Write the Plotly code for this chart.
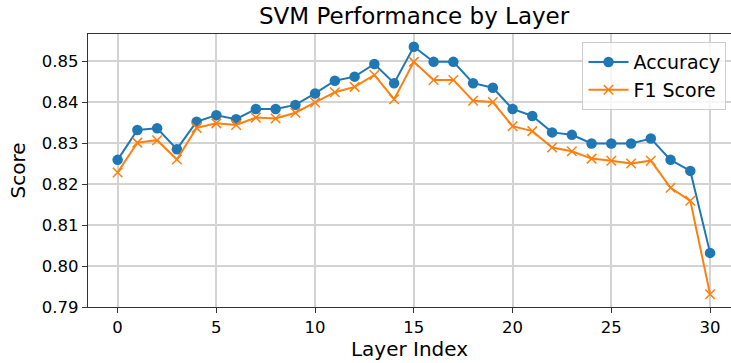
import plotly.graph_objects as go

layers = list(range(31))
accuracy = [0.8259, 0.8332, 0.8336, 0.8285, 0.8352, 0.8368, 0.8358, 0.8383, 0.8383, 0.8393,
            0.8421, 0.8452, 0.8462, 0.8493, 0.8446, 0.8535, 0.8498, 0.8498, 0.8446, 0.8435,
            0.8383, 0.8366, 0.8326, 0.8320, 0.8299, 0.8299, 0.8299, 0.8311, 0.8259, 0.8232,
            0.8032]
f1_score = [0.8228, 0.8301, 0.8307, 0.8260, 0.8337, 0.8348, 0.8344, 0.8362, 0.8360, 0.8374,
            0.8399, 0.8424, 0.8437, 0.8466, 0.8407, 0.8498, 0.8454, 0.8454, 0.8403, 0.8400,
            0.8341, 0.8329, 0.8289, 0.8280, 0.8262, 0.8257, 0.8250, 0.8257, 0.8191, 0.8159,
            0.7931]
x_ticks = [0, 5, 10, 15, 20, 25, 30]
y_ticks = [0.79, 0.80, 0.81, 0.82, 0.83, 0.84, 0.85]

FONT = "DejaVu Sans"

fig = go.Figure()
fig.add_trace(go.Scatter(
    x=layers, y=accuracy, name="Accuracy", mode="lines+markers",
    line=dict(color="#1f77b4", width=2),
    marker=dict(symbol="circle", size=10.5, color="#1f77b4"),
))
fig.add_trace(go.Scatter(
    x=layers, y=f1_score, name="F1 Score", mode="lines+markers",
    line=dict(color="#ff7f0e", width=2),
    marker=dict(symbol="x-thin", size=9.5, line=dict(color="#ff7f0e", width=1.5), color="#ff7f0e"),
))

fig.update_layout(
    width=731, height=363,
    margin=dict(l=88, r=0, t=34, b=56),
    paper_bgcolor="white", plot_bgcolor="white",
    font=dict(family=FONT, color="black", size=16),
    title=dict(text="SVM Performance by Layer", x=0.5665, xanchor="center",
               y=0.955, yanchor="middle", font=dict(size=23, family=FONT)),
    legend=dict(x=0.993, y=0.97, xanchor="right", yanchor="top",
                bgcolor="rgba(255,255,255,0.8)", bordercolor="#cccccc", borderwidth=1,
                font=dict(size=19, family=FONT), itemwidth=40, tracegroupgap=0),
    showlegend=True,
)
fig.update_xaxes(
    range=[-1.5, 31.06], tickvals=x_ticks, ticks="outside", ticklen=5, tickwidth=1,
    tickcolor="#333333", showline=True, linecolor="#333333", linewidth=1.2, mirror=True,
    showgrid=True, gridcolor="#d3d3d3", gridwidth=1.5, zeroline=False,
    title=dict(text="Layer Index", font=dict(size=20, family=FONT), standoff=6),
    tickfont=dict(size=16.5, family=FONT),
)
fig.update_yaxes(
    range=[0.7900, 0.8566], tickvals=y_ticks, tickformat=".2f", ticks="outside", ticklen=5,
    tickwidth=1, tickcolor="#333333", showline=True, linecolor="#333333", linewidth=1.2,
    mirror=False, showgrid=True, gridcolor="#d3d3d3", gridwidth=1.5, zeroline=False,
    title=dict(text="Score", font=dict(size=20, family=FONT), standoff=10),
    tickfont=dict(size=16.5, family=FONT),
)

fig.write_html("out.html")
